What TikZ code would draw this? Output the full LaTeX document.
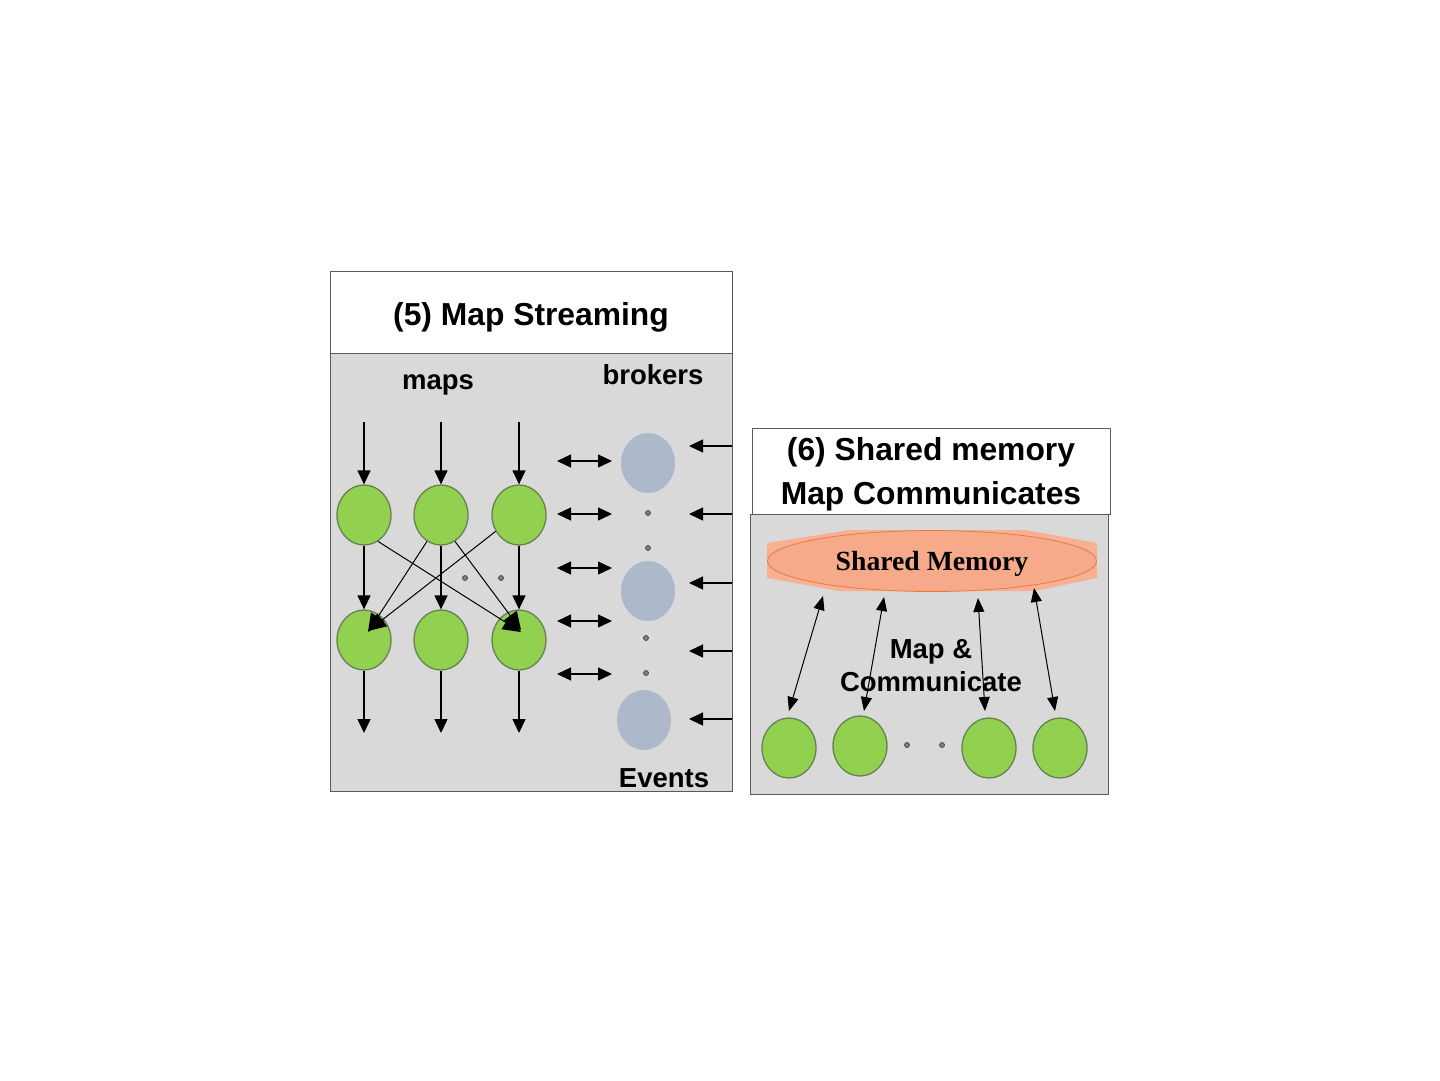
\documentclass[tikz,border=0pt]{standalone}
\usepackage{fontspec}
\setmainfont{Liberation Sans}
\newfontfamily\smfont{Liberation Serif}
\usepackage{xcolor}
\usetikzlibrary{arrows.meta,shapes.geometric}

\definecolor{panelgray}{RGB}{217,217,217}
\definecolor{paneledge}{RGB}{90,90,90}
\definecolor{mapgreen}{RGB}{146,208,80}
\definecolor{mapedge}{RGB}{104,128,84}
\definecolor{brokerblue}{RGB}{173,185,202}
\definecolor{smfill}{RGB}{246,170,138}
\definecolor{smglow}{RGB}{247,176,146}
\definecolor{smedge}{RGB}{232,122,62}

\begin{document}
\begin{tikzpicture}[
  x=1pt, y=-1pt,
  lbl/.style={font=\fontsize{27.5}{33}\selectfont\bfseries, align=center},
  ttl/.style={font=\fontsize{31.8}{44}\selectfont\bfseries, align=center},
  panel/.style={draw=paneledge, fill=panelgray, line width=1pt},
  ttlbox/.style={draw=paneledge, fill=white, line width=1pt},
  mapnode/.style={ellipse, draw=mapedge, fill=mapgreen, line width=1.3pt,
                  minimum width=54pt, minimum height=60pt, inner sep=0pt},
  brknode/.style={ellipse, fill=brokerblue, minimum width=54pt,
                  minimum height=60pt, inner sep=0pt},
  smalldot/.style={circle, draw=gray!40!black, fill=gray, line width=0.6pt,
                   minimum size=5pt, inner sep=0pt},
  arr/.style={-{Triangle[length=14pt,width=13pt]}, line width=1.3pt},
  darr/.style={{Triangle[length=14pt,width=13pt]}-{Triangle[length=14pt,width=13pt]},
               line width=1.3pt},
  xarr/.style={-{Triangle[length=18pt,width=16pt]}, line width=1pt},
  marr/.style={{Triangle[length=14pt,width=11pt]}-{Triangle[length=14pt,width=11pt]},
               line width=1pt},
]
\useasboundingbox[fill=white] (0,0) rectangle (1440,1080);

%% ===== (5) Map Streaming =====
\draw[ttlbox] (330,271) rectangle (732,353);
\draw[panel] (330,353) rectangle (732,791);
\node[ttl] (t5) at (531,317) {(5) Map Streaming};

\node[lbl] (lmaps) at (438,385) {maps};
\node[lbl] (lbrk) at (653,375) {brokers};
\node[lbl] (lev) at (664,778) {Events};

\foreach \i/\j/\x in {1/4/364, 2/5/441, 3/6/519} {
  \node[mapnode] (m\i) at (\x,515) {};
  \node[mapnode] (m\j) at (\x,640) {};
  \coordinate (in\i) at (\x,422);
  \coordinate (out\i) at (\x,733);
  \draw[arr] (in\i) -- (m\i);
  \draw[arr] (m\i) -- (m\j);
  \draw[arr] (m\j) -- (out\i);
}

\draw[xarr] (m1.-62) -- ([xshift=2pt,yshift=8pt]m6.center);
\draw[xarr] (m2.-118) -- ([xshift=4pt,yshift=8pt]m4.center);
\draw[xarr] (m2.-62) -- ([xshift=2pt,yshift=10pt]m6.center);
\draw[xarr] (m3.-145) -- ([xshift=4pt,yshift=9pt]m4.center);

\node[smalldot] (x1) at (465,578) {};
\node[smalldot] (x2) at (501,578) {};

% brokers
\node[brknode] (b1) at (648,463) {};
\node[brknode] (b2) at (648,591) {};
\node[brknode] (b3) at (644,720) {};
\node[smalldot] (d1) at (648,513) {};
\node[smalldot] (d2) at (648,548) {};
\node[smalldot] (d3) at (646,638) {};
\node[smalldot] (d4) at (646,673) {};

\foreach \k/\y in {1/461, 2/514, 3/568, 4/621, 5/674} {
  \coordinate (la\k) at (557,\y);
  \coordinate (ra\k) at (612,\y);
  \draw[darr] (la\k) -- (ra\k);
}
\foreach \k/\y in {1/446, 2/514, 3/583, 4/651, 5/719} {
  \coordinate (es\k) at (732,\y);
  \coordinate (ee\k) at (689,\y);
  \draw[arr] (es\k) -- (ee\k);
}

%% ===== (6) Shared memory =====
\draw[ttlbox] (752,428) rectangle (1110,514);
\draw[panel] (750,514) rectangle (1108,794);
\node[ttl] (t6) at (931,474) {(6) Shared memory\\Map Communicates};

% glow behind the shared memory
\fill[smglow] (767,543) -- (850,530) -- (1025,530) -- (1097,543)
  -- (1097,578) -- (1035,591) -- (840,591) -- (767,578) -- cycle;
\node[ellipse, fill=smfill, draw=smedge, line width=0.8pt,
      minimum width=329pt, minimum height=61pt, inner sep=0pt,
      text height=25pt, text depth=6pt,
      font=\smfont\fontsize{27.7}{33}\selectfont\bfseries] (sm) at (932,561)
  {Shared Memory};

\node[lbl] (lmc) at (931,666) {Map \&\\Communicate};

\node[mapnode] (p1) at (789,748) {};
\node[mapnode] (p2) at (860,746) {};
\node[mapnode] (p3) at (989,748) {};
\node[mapnode] (p4) at (1060,748) {};
\node[smalldot] (d5) at (907,745) {};
\node[smalldot] (d6) at (942,745) {};

\coordinate (st1) at (823,596);  \coordinate (sb1) at (789,711);
\coordinate (st2) at (884,597);  \coordinate (sb2) at (864,711);
\coordinate (st3) at (978,598);  \coordinate (sb3) at (985,711);
\coordinate (st4) at (1034,588); \coordinate (sb4) at (1055,711);
\foreach \k in {1,...,4}
  \draw[marr] (st\k) -- (sb\k);

\end{tikzpicture}
\end{document}
